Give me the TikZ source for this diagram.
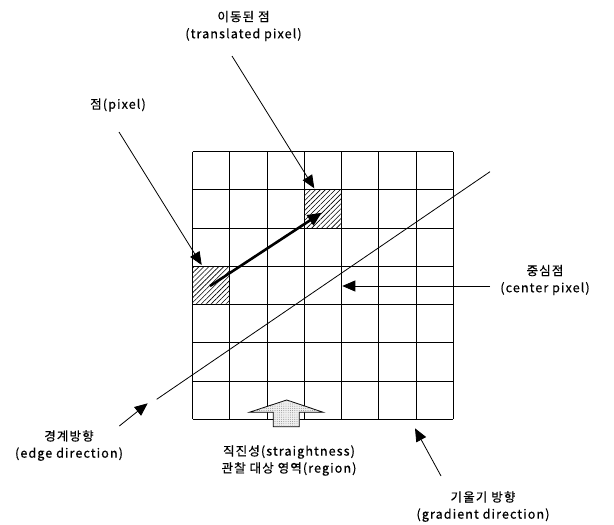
\documentclass[tikz,border=0pt]{standalone}
\usepackage{fontspec}
\setmainfont{Noto Sans CJK KR}
\newfontfamily\lblfont[LetterSpace=9,FakeBold=0.6]{Noto Sans CJK KR}
\usetikzlibrary{arrows.meta,patterns.meta}
\begin{document}
\begin{tikzpicture}[x=1pt,y=-1pt,
  gridline/.style={line width=0.9pt},
  lbl/.style={font=\lblfont\fontsize{12.5}{17}\selectfont, inner sep=1pt, align=center},
  thin arrow/.style={line width=0.8pt, -{Triangle[length=13pt,width=11pt]}},
  thick arrow/.style={line width=2.6pt, -{Triangle[length=14pt,width=12pt]}},
  hatch/.style={pattern={Lines[angle=45,distance=3.5pt,line width=0.6pt]}},
  blockarrow/.style={draw, line width=0.8pt, fill=gray!12,
    postaction={pattern={Dots[distance=2.2pt,radius=0.45pt]}, pattern color=gray}}
]
\useasboundingbox (0,0) rectangle (614,525);
% hatched cells
\path[hatch] (192.7,266.4) rectangle (229.9,304.6);
\path[hatch] (304.4,189.9) rectangle (341.6,228.1);
% grid 7x7
\foreach \i in {0,...,7}{
  \draw[gridline] ({192.7+\i*37.23},151.7) -- ({192.7+\i*37.23},419.3);
  \draw[gridline] (192.7,{151.7+\i*38.23}) -- (453.3,{151.7+\i*38.23});
}
% coordinates
\coordinate (pixtail) at (119,132);
\coordinate (pixtip) at (201.7,265);
\coordinate (trtail) at (232,56);
\coordinate (trtip) at (314.3,188.3);
\coordinate (mvstart) at (210,286);
\coordinate (mvend) at (321.7,212.7);
\coordinate (edgeA) at (156.7,399.3);
\coordinate (edgeB) at (490,171.7);
\coordinate (edgetail) at (119.3,426);
\coordinate (edgetip) at (147.7,403.3);
\coordinate (ctail) at (490,286);
\coordinate (ctip) at (342.3,286);
\coordinate (gtail) at (441,476);
\coordinate (gtip) at (415,428.3);
% labels
\node[lbl] (trlbl) at (243.5,26) {이동된 점\\(translated pixel)};
\node[lbl] (pixlbl) at (118,105) {점(pixel)};
\node[lbl] (clbl) at (545,280) {중심점\\(center pixel)};
\node[lbl] (edgelbl) at (69,445.5) {경계방향\\(edge direction)};
\node[lbl] (slbl) at (289,460.5) {직진성(straightness)\\관찰 대상 영역(region)};
\node[lbl] (glbl) at (483,506.5) {기울기 방향\\(gradient direction)};
% connectors
\draw[thin arrow] (pixtail) -- (pixtip);
\draw[thin arrow] (trtail) -- (trtip);
\draw[thick arrow] (mvstart) -- (mvend);
\draw[line width=0.8pt] (edgeA) -- (edgeB);
\draw[thin arrow] (edgetail) -- (edgetip);
\draw[thin arrow] (ctail) -- (ctip);
\draw[thin arrow] (gtail) -- (gtip);
% block arrow
\draw[blockarrow] (286.7,400) -- (323.3,412.3) -- (299.3,412.3) -- (299.3,426.7)
  -- (273.3,426.7) -- (273.3,412.3) -- (249.3,412.3) -- cycle;
\end{tikzpicture}
\end{document}
